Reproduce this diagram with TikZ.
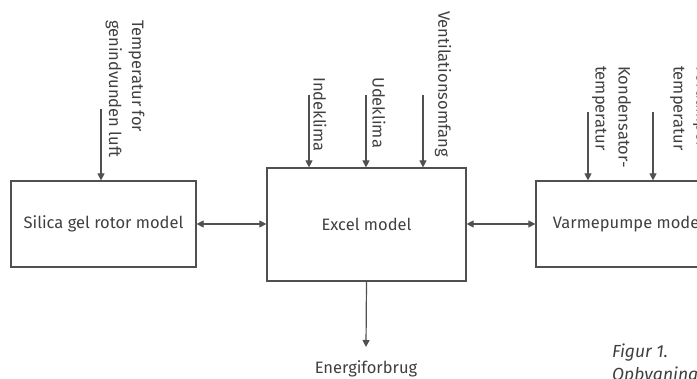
\documentclass[tikz,border=0pt]{standalone}
\usepackage{fontspec}
\setmainfont{Fira Sans}
\usetikzlibrary{arrows.meta}

\definecolor{linegray}{HTML}{505050}
\definecolor{textgray}{HTML}{404040}

\begin{document}
\begin{tikzpicture}[
    x=1pt, y=1pt,
    model/.style={rectangle, draw=linegray, line width=1.2pt, inner sep=0pt, text=textgray, font=\fontsize{16.5}{23}\selectfont},
    input/.style={rotate=-90, anchor=west, inner sep=0pt, align=left, text=textgray, font=\fontsize{16.5}{23}\selectfont},
    arrow/.style={-{Triangle[width=7pt,length=7pt]}, draw=linegray, line width=1.2pt},
    both/.style={{Triangle[width=7pt,length=7pt]}-{Triangle[width=7pt,length=7pt]}, draw=linegray, line width=1.2pt}
]
\useasboundingbox (0,0) rectangle (697,379);
\clip (0,0) rectangle (697,379);

% model boxes
\node[model, minimum width=185pt, minimum height=86pt] (silica) at (103.5,155) {Silica gel rotor model};
\node[model, minimum width=199pt, minimum height=113pt] (excel) at (366.5,154.5) {Excel model};
\node[model, minimum width=185pt, minimum height=86pt] (varme) at (628.5,155) {Varmepumpe model};

% inputs
\coordinate (tgen) at (101,270);
\node[input] (tgenlabel) at (125,359) {Temperatur for\\genindvunden luft};
\draw[arrow] (tgen) -- (tgen |- silica.north);

\coordinate (inde) at (309,284);
\coordinate (ude) at (366,284);
\coordinate (vent) at (423,284);
\node[input] (indelabel) at (320,302) {Indeklima};
\node[input] (udelabel) at (379,302) {Udeklima};
\node[input] (ventlabel) at (443,368) {Ventilationsomfang};
\draw[arrow] (inde) -- (inde |- excel.north);
\draw[arrow] (ude) -- (ude |- excel.north);
\draw[arrow] (vent) -- (vent |- excel.north);

\coordinate (kond) at (588,267);
\coordinate (ford) at (653,267);
\node[input] (kondlabel) at (611.5,313) {Kondensator-\\temperatur};
\node[input] (fordlabel) at (689.5,313) {Fordamper-\\temperatur};
\draw[arrow] (kond) -- (kond |- varme.north);
\draw[arrow] (ford) -- (ford |- varme.north);

% links between models
\draw[both] (silica.east) -- (excel.west |- silica.east);
\draw[both] (excel.east |- varme.west) -- (varme.west);

% output
\node[text=textgray, anchor=north, inner sep=0pt, font=\fontsize{16.5}{23}\selectfont] (energi) at (366,19) {Energiforbrug};
\draw[arrow] (excel.south) -- ([yshift=13pt]energi.north);

% caption
\node[anchor=north west, inner sep=0pt, align=left, text=textgray, font=\fontsize{17.5}{23}\selectfont\itshape] (caption) at (612,35) {Figur 1.\\Opbygning};

\end{tikzpicture}
\end{document}
